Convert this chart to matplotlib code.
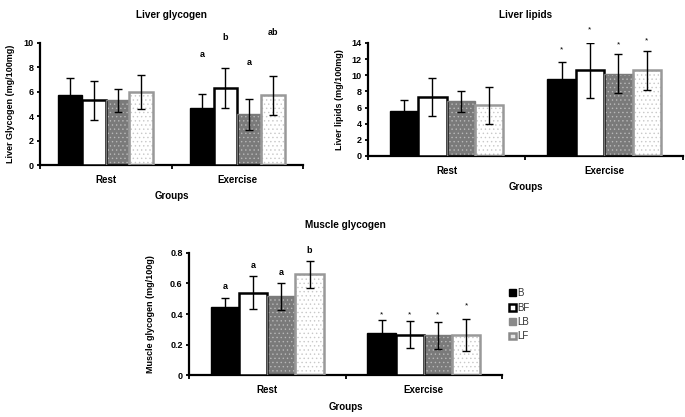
import matplotlib
matplotlib.use("Agg")
import matplotlib.pyplot as plt
from matplotlib.patches import Patch
import numpy as np

plt.rcParams['font.family'] = ['Liberation Sans', 'DejaVu Sans']
plt.rcParams['hatch.linewidth'] = 0.5

groups = ["Rest", "Exercise"]
series = ["B", "BF", "LB", "LF"]

lg_vals = {"B": [5.7, 4.7], "BF": [5.3, 6.3], "LB": [5.3, 4.15], "LF": [6.0, 5.7]}
lg_err = {"B": [1.4, 1.15], "BF": [1.6, 1.65], "LB": [0.95, 1.3], "LF": [1.4, 1.6]}
lg_marks = {"B": [None, "a"], "BF": [None, "b"], "LB": [None, "a"], "LF": [None, "ab"]}
lg_mark_y = {"B": [None, 8.7], "BF": [None, 10.1], "LB": [None, 8.0], "LF": [None, 10.5]}

ll_vals = {"B": [5.6, 9.6], "BF": [7.3, 10.6], "LB": [6.8, 10.2], "LF": [6.3, 10.6]}
ll_err = {"B": [1.3, 2.1], "BF": [2.4, 3.4], "LB": [1.3, 2.4], "LF": [2.3, 2.45]}
ll_marks = {"B": [None, "*"], "BF": [None, "*"], "LB": [None, "*"], "LF": [None, "*"]}
ll_mark_y = {"B": [None, 12.7], "BF": [None, 15.2], "LB": [None, 13.3], "LF": [None, 13.8]}

mg_vals = {"B": [0.445, 0.275], "BF": [0.54, 0.265], "LB": [0.515, 0.26], "LF": [0.66, 0.265]}
mg_err = {"B": [0.06, 0.085], "BF": [0.11, 0.09], "LB": [0.09, 0.09], "LF": [0.088, 0.105]}
mg_marks = {"B": ["a", "*"], "BF": ["a", "*"], "LB": ["a", "*"], "LF": ["b", "*"]}
mg_mark_y = {"B": [0.55, 0.37], "BF": [0.69, 0.37], "LB": [0.64, 0.37], "LF": [0.785, 0.43]}

styles = {
    "B": dict(face="black", hatch=None, hatchcol=None, edge="black", lw=1.0),
    "BF": dict(face="white", hatch=None, hatchcol=None, edge="black", lw=1.8),
    "LB": dict(face="#7a7a7a", hatch="....", hatchcol="#b8b8b8", edge="#7a7a7a", lw=1.0),
    "LF": dict(face="white", hatch="....", hatchcol="#c8c8c8", edge="#999999", lw=1.8),
}

W = 0.18


def panel(ax, title, ylabel, vals, errs, marks, mark_y, ylim, yticks, lab_x, xlab_y, title_y):
    x = np.arange(len(groups))
    for i, s in enumerate(series):
        st = styles[s]
        pos = x + (i - 1.5) * W
        if st["hatch"]:
            ax.bar(pos, vals[s], W, color=st["face"], edgecolor=st["hatchcol"],
                   hatch=st["hatch"], linewidth=0, zorder=2)
            ax.bar(pos, vals[s], W, fill=False, edgecolor=st["edge"],
                   linewidth=st["lw"], zorder=3)
        else:
            ax.bar(pos, vals[s], W, color=st["face"], edgecolor=st["edge"],
                   linewidth=st["lw"], zorder=3)
        ax.errorbar(pos, vals[s], yerr=errs[s], fmt="none", ecolor="black",
                    elinewidth=1.0, capsize=2.6, capthick=1.0, zorder=4)
        for j in range(len(groups)):
            m = marks[s][j]
            if m:
                ax.text(pos[j], mark_y[s][j], m, ha="center", va="bottom",
                        fontsize=6.5 if m != "*" else 6,
                        fontweight="bold" if m != "*" else "normal",
                        clip_on=False)
    ax.set_xlim(-0.5, 1.5)
    ax.set_ylim(*ylim)
    ax.set_yticks(yticks)
    ax.set_yticklabels(["{:g}".format(v) for v in yticks], fontsize=6.5, fontweight="bold")
    ax.set_xticks(x)
    ax.set_xticklabels(groups, fontsize=7, fontweight="bold")
    ax.set_xticks([-0.5, 0.5, 1.5], minor=True)
    ax.tick_params(axis="x", which="major", length=0, pad=7)
    ax.tick_params(axis="x", which="minor", length=3, width=1.3, direction="out")
    ax.tick_params(axis="y", length=2.5, width=1.3, direction="out", pad=2)
    for sp in ["top", "right"]:
        ax.spines[sp].set_visible(False)
    for sp in ["left", "bottom"]:
        ax.spines[sp].set_linewidth(1.6)
    ax.set_title(title, fontsize=7.2, fontweight="bold", y=title_y, pad=0)
    ax.set_ylabel(ylabel, fontsize=6.5, fontweight="bold")
    ax.yaxis.set_label_coords(lab_x, 0.5)
    ax.set_xlabel("Groups", fontsize=7, fontweight="bold")
    ax.xaxis.set_label_coords(0.5, xlab_y)


fig = plt.figure(figsize=(6.85, 4.17), dpi=100)

ax1 = fig.add_axes([0.0584, 0.6043, 0.384, 0.2926])
panel(ax1, "Liver glycogen", "Liver Glycogen (mg/100mg)", lg_vals, lg_err, lg_marks, lg_mark_y,
      (0, 10), [0, 2, 4, 6, 8, 10], -0.095, -0.21, 1.205)

ax2 = fig.add_axes([0.537, 0.6259, 0.460, 0.271])
panel(ax2, "Liver lipids", "Liver lipids (mg/100mg)", ll_vals, ll_err, ll_marks, ll_mark_y,
      (0, 14), [0, 2, 4, 6, 8, 10, 12, 14], -0.076, -0.23, 1.221)

ax3 = fig.add_axes([0.2759, 0.1007, 0.457, 0.2926])
panel(ax3, "Muscle glycogen", "Muscle glycogen (mg/100g)", mg_vals, mg_err, mg_marks, mg_mark_y,
      (0, 0.8), [0, 0.2, 0.4, 0.6, 0.8], -0.109, -0.22, 1.205)

handles = [
    Patch(facecolor="black", edgecolor="black", linewidth=1),
    Patch(facecolor="white", edgecolor="black", linewidth=1.8),
    Patch(facecolor="#8a8a8a", edgecolor="#8a8a8a", linewidth=1),
    Patch(facecolor="#e8e8e8", edgecolor="#8a8a8a", linewidth=1.8),
]
leg = fig.legend(handles, series, loc="upper left", bbox_to_anchor=(0.738, 0.318),
                 frameon=False, fontsize=7, handlelength=0.7, handleheight=0.7,
                 handletextpad=0.15, labelspacing=0.45, borderaxespad=0)
for t in leg.get_texts():
    t.set_color("#333333")

fig.savefig("out.png", dpi=100)
